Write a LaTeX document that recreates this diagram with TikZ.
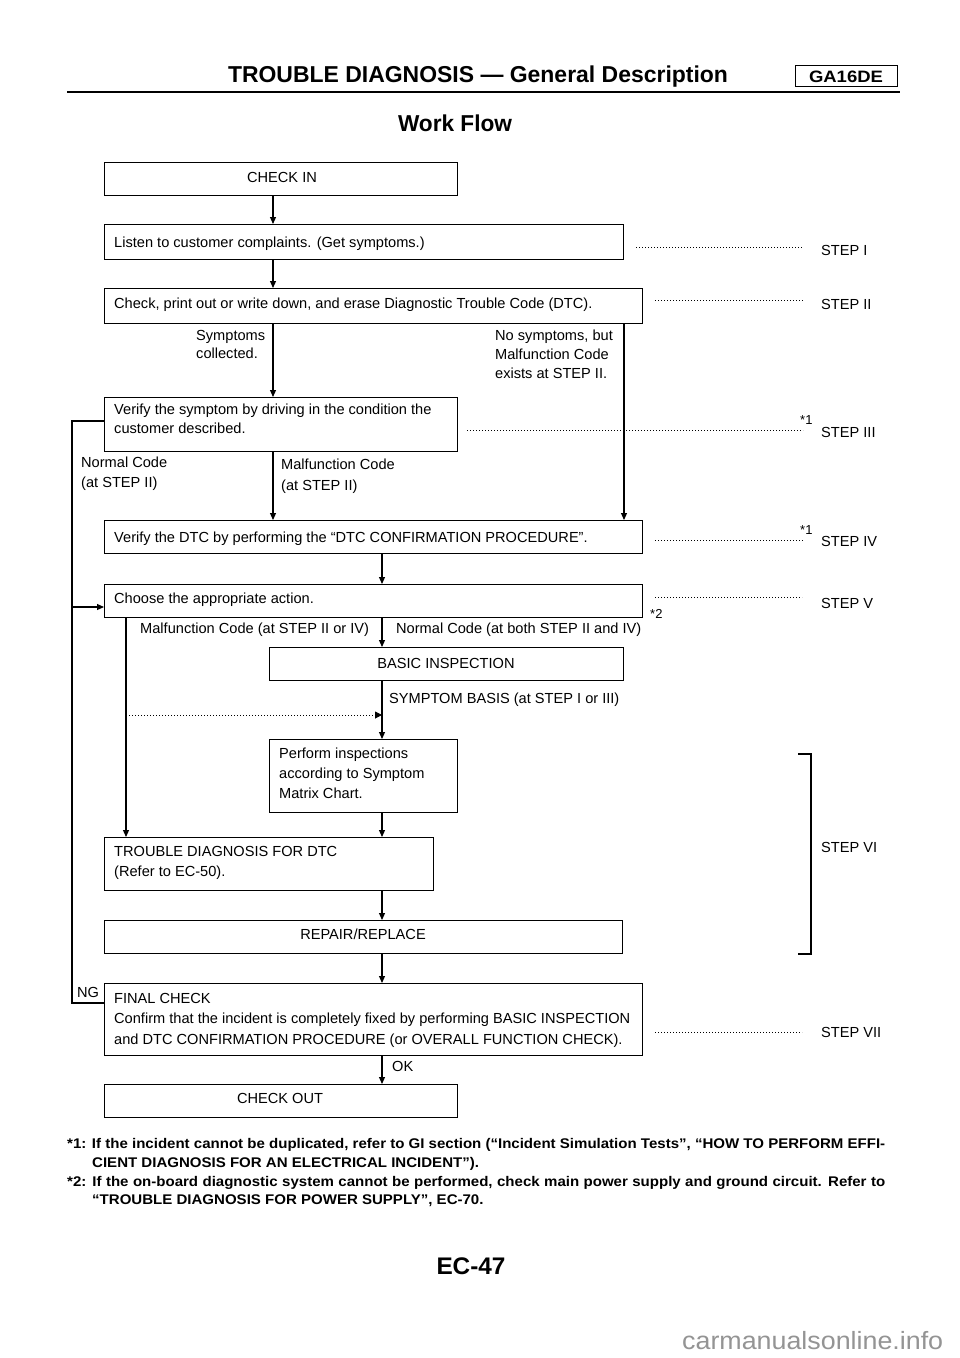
\documentclass[tikz,border=0pt]{standalone}
\usepackage{fontspec}
\setmainfont{Liberation Sans}
\usepackage{graphicx}
\usetikzlibrary{arrows.meta}
\newlength\fnwA
\newcommand\fnfmt{\fontsize{14}{16}\selectfont\bfseries}
\newcommand\fnlineA{*1: If the incident cannot be duplicated, refer to GI section (“Incident Simulation Tests”, “HOW TO PERFORM EFFI-}
\begin{document}
\settowidth{\fnwA}{\fnfmt\fnlineA}%
\begin{tikzpicture}[x=1pt,y=-1pt,
 box/.style={draw, line width=1.1pt, inner sep=0pt, anchor=north west},
 txt/.style={inner sep=0pt, anchor=base west, font=\fontsize{14.6}{17}\selectfont},
 ctxt/.style={txt, anchor=base},
 arr/.style={line width=1.1pt, -{Triangle[length=7pt,width=6pt]}},
 ln/.style={line width=1.1pt},
 leader/.style={line width=1pt, dash pattern=on 1pt off 2pt},
 stepl/.style={txt},
]
\useasboundingbox[fill=white] (0,0) rectangle (960,1358);
\pgfmathsetmacro\fnsc{818/\fnwA}

% header
\node[inner sep=0, anchor=base] (title) at (478,82) {\resizebox{500pt}{\height}{\fontsize{23}{26}\selectfont\bfseries TROUBLE DIAGNOSIS — General Description}};
\node[draw, line width=1.4pt, inner sep=0, minimum width=102, minimum height=21, anchor=north west] (ga) at (795,65) {};
\node[inner sep=0, anchor=base] (gat) at (846,82) {\resizebox{74pt}{\height}{\fontsize{16.5}{18}\selectfont\bfseries GA16DE}};
\coordinate (rl) at (67,92); \coordinate (rr) at (900,92);
\draw[line width=2.6pt] (rl) -- (rr);
\node[inner sep=0, anchor=base] (wf) at (455,131) {\resizebox{114pt}{\height}{\fontsize{23}{26}\selectfont\bfseries Work Flow}};

% boxes
\node[box, minimum width=353, minimum height=33] (checkin) at (104,162) {};
\node[box, minimum width=519, minimum height=35] (listen) at (104,224) {};
\node[box, minimum width=538, minimum height=35] (check) at (104,288) {};
\node[box, minimum width=353, minimum height=54] (verS) at (104,397) {};
\node[box, minimum width=538, minimum height=33] (verD) at (104,520) {};
\node[box, minimum width=538, minimum height=33] (choose) at (104,584) {};
\node[box, minimum width=354, minimum height=33] (basic) at (269,647) {};
\node[box, minimum width=188, minimum height=73] (perform) at (269,739) {};
\node[box, minimum width=329, minimum height=53] (trouble) at (104,837) {};
\node[box, minimum width=518, minimum height=33] (repair) at (104,920) {};
\node[box, minimum width=538, minimum height=72] (final) at (104,983) {};
\node[box, minimum width=353, minimum height=33] (checkout) at (104,1084) {};

% box texts
\node[ctxt] (t1) at (282,182) {CHECK IN};
\node[txt] (t2) at (114,247) {Listen to customer complaints. (Get symptoms.)};
\node[txt] (t3) at (114,308) {Check, print out or write down, and erase Diagnostic Trouble Code (DTC).};
\node[txt] (t4a) at (114,414) {Verify the symptom by driving in the condition the};
\node[txt] (t4b) at (114,433) {customer described.};
\node[txt] (t5) at (114,542) {Verify the DTC by performing the “DTC CONFIRMATION PROCEDURE”.};
\node[txt] (t6) at (114,603) {Choose the appropriate action.};
\node[ctxt] (t7) at (446,668) {BASIC INSPECTION};
\node[txt] (t8a) at (279,758) {Perform inspections};
\node[txt] (t8b) at (279,778) {according to Symptom};
\node[txt] (t8c) at (279,798) {Matrix Chart.};
\node[txt] (t9a) at (114,856) {TROUBLE DIAGNOSIS FOR DTC};
\node[txt] (t9b) at (114,876) {(Refer to EC-50).};
\node[ctxt] (t10) at (363,939) {REPAIR/REPLACE};
\node[txt] (t11a) at (114,1003) {FINAL CHECK};
\node[txt] (t11b) at (114,1023) {Confirm that the incident is completely fixed by performing BASIC INSPECTION};
\node[txt] (t11c) at (114,1044) {and DTC CONFIRMATION PROCEDURE (or OVERALL FUNCTION CHECK).};
\node[ctxt] (t12) at (280,1103) {CHECK OUT};

% branch labels
\node[txt] (s1) at (196,340) {Symptoms};
\node[txt] (s2) at (196,358) {collected.};
\node[txt] (n1) at (495,340) {No symptoms, but};
\node[txt] (n2) at (495,359) {Malfunction Code};
\node[txt] (n3) at (495,378) {exists at STEP II.};
\node[txt] (nc1) at (81,467) {Normal Code};
\node[txt] (nc2) at (81,487) {(at STEP II)};
\node[txt] (mc1) at (281,469) {Malfunction Code};
\node[txt] (mc2) at (281,490) {(at STEP II)};
\node[txt] (mc3) at (140,633) {Malfunction Code (at STEP II or IV)};
\node[txt] (nc3) at (396,633) {Normal Code (at both STEP II and IV)};
\node[txt] (sb) at (389,703) {SYMPTOM BASIS (at STEP I or III)};
\node[txt] (ng) at (77,997) {NG};
\node[txt] (ok) at (392,1071) {OK};

% columns
\coordinate (cA) at (273,0);
\coordinate (cB) at (382,0);
\coordinate (cC) at (624,0);
\coordinate (cL) at (126,0);

% connectors
\draw[arr] (checkin.south -| cA) -- (listen.north -| cA);
\draw[arr] (listen.south -| cA) -- (check.north -| cA);
\draw[arr] (check.south -| cA) -- (verS.north -| cA);
\draw[arr] (verS.south -| cA) -- (verD.north -| cA);
\draw[arr] (check.south -| cC) -- (verD.north -| cC);
\draw[arr] (verD.south -| cB) -- (choose.north -| cB);
\draw[arr] (choose.south -| cB) -- (basic.north -| cB);
\draw[arr] (choose.south -| cL) -- (trouble.north -| cL);
\draw[arr] (basic.south -| cB) -- (perform.north -| cB);
\draw[arr] (perform.south -| cB) -- (trouble.north -| cB);
\draw[arr] (trouble.south -| cB) -- (repair.north -| cB);
\draw[arr] (repair.south -| cB) -- (final.north -| cB);
\draw[arr] (final.south -| cB) -- (checkout.north -| cB);

% outer loop
\coordinate (lt) at (72,421);
\coordinate (lb) at (72,1003);
\coordinate (la) at (72,607);
\draw[ln] (verS.west |- lt) -- (lt) -- (lb) -- (final.west |- lb);
\draw[arr] (la) -- (choose.west |- la);

% dotted arrow
\coordinate (da) at (129,715);
\draw[leader, -{Triangle[length=7pt,width=7pt]}] (da) -- (da -| cB);

% step leaders and labels
\coordinate (l1a) at (636,247); \coordinate (l1b) at (803,247);
\coordinate (l2a) at (655,300); \coordinate (l2b) at (803,300);
\coordinate (l3a) at (467,430); \coordinate (l3b) at (803,430);
\coordinate (l4a) at (655,540); \coordinate (l4b) at (803,540);
\coordinate (l5a) at (655,597); \coordinate (l5b) at (802,597);
\coordinate (l7a) at (655,1032); \coordinate (l7b) at (802,1032);
\draw[leader] (l1a) -- (l1b);
\draw[leader] (l2a) -- (l2b);
\draw[leader] (l3a) -- (l3b);
\draw[leader] (l4a) -- (l4b);
\draw[leader] (l5a) -- (l5b);
\draw[leader] (l7a) -- (l7b);
\node[stepl] (st1) at (821,255) {STEP I};
\node[stepl] (st2) at (821,309) {STEP II};
\node[stepl] (st3) at (821,437) {STEP III};
\node[stepl] (st4) at (821,546) {STEP IV};
\node[stepl] (st5) at (821,608) {STEP V};
\node[stepl] (st6) at (821,852) {STEP VI};
\node[stepl] (st7) at (821,1037) {STEP VII};
\node[txt, font=\fontsize{13}{15}\selectfont] (a1) at (800,424) {*1};
\node[txt, font=\fontsize{13}{15}\selectfont] (a2) at (800,534) {*1};
\node[txt, font=\fontsize{13}{15}\selectfont] (a3) at (650,618) {*2};

% STEP VI bracket
\coordinate (b1) at (798,754); \coordinate (b2) at (811,754);
\coordinate (b3) at (811,954); \coordinate (b4) at (798,954);
\draw[line width=1.1pt] (b1) -- (b2) -- (b3) -- (b4);

% footnotes
\node[inner sep=0, anchor=base west] (f1) at (67,1148) {\resizebox{818pt}{\height}{\fnfmt\fnlineA}};
\node[inner sep=0, anchor=base west] (f2) at (92,1167) {\scalebox{\fnsc}[1]{\fnfmt CIENT DIAGNOSIS FOR AN ELECTRICAL INCIDENT”).}};
\node[inner sep=0, anchor=base west] (f3) at (67,1186) {\scalebox{\fnsc}[1]{\makebox[\fnwA][s]{\fnfmt *2: If the on-board diagnostic system cannot be performed, check main power supply and ground circuit. Refer to}}};
\node[inner sep=0, anchor=base west] (f4) at (92,1204) {\scalebox{\fnsc}[1]{\fnfmt “TROUBLE DIAGNOSIS FOR POWER SUPPLY”, EC-70.}};

\node[inner sep=0, anchor=base] (pg) at (471,1274) {\resizebox{69pt}{\height}{\fontsize{24}{28}\selectfont\bfseries EC-47}};
\node[inner sep=0, anchor=base west, text=black!42] (wm) at (682,1349) {\resizebox{261pt}{\height}{\fontsize{25}{28}\selectfont carmanualsonline.info}};
\end{tikzpicture}
\end{document}
